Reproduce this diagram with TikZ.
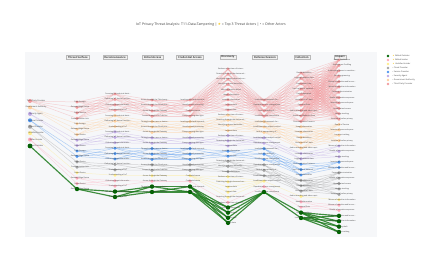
\documentclass[tikz,border=0pt]{standalone}
\usepackage{fontspec}
\setmainfont{Open Sans}
\newfontfamily\symf{DejaVu Sans}
\definecolor{ac1}{HTML}{F29C9F}
\definecolor{ac2}{HTML}{FFD09E}
\definecolor{ac3}{HTML}{BFA9E4}
\definecolor{ac4}{HTML}{4F95EE}
\definecolor{ac5}{HTML}{A3A3A3}
\definecolor{ac6}{HTML}{FFEB8A}
\definecolor{ac7}{HTML}{FFABBC}
\definecolor{ac8}{HTML}{006400}
\definecolor{gE}{HTML}{1E7B1E}
\definecolor{panel}{HTML}{F6F7F9}
\definecolor{txt}{HTML}{3C3C3C}
\definecolor{gold}{HTML}{F5C518}
\pgfdeclarelayer{bgl}
\pgfdeclarelayer{edgel}
\pgfsetlayers{bgl,edgel,main}
\tikzset{
  dot/.style={circle,inner sep=0pt,minimum size=3.4,fill=ac#1},
  gdot/.style={circle,inner sep=0pt,minimum size=4.4,fill=ac8},
  lbl/.style={inner sep=0pt,text=txt,font=\fontsize{1.85}{2.1}\selectfont},
  albl/.style={inner sep=0pt,text=txt,font=\fontsize{2}{2.3}\selectfont},
  edge/.style={draw=ac#1,line width=0.5,opacity=0.42},
  gedge/.style={draw=gE,line width=1.15,opacity=0.85},
  hdr/.style={draw=gray!55,fill=gray!12,line width=0.3,inner xsep=1.6,inner ysep=0.9,text=txt,font=\fontsize{2.7}{3.1}\selectfont\bfseries},
  legtxt/.style={inner sep=0pt,anchor=west,text=txt,font=\fontsize{2}{2.4}\selectfont},
}
\newcommand\mkcol[5]{%
  \foreach \aa in {1,...,8}{\expandafter\xdef\csname cnt#1-\aa\endcsname{0}}%
  \foreach [count=\ii from 0] \aa/\lab in {#5}{%
    \pgfmathsetmacro\yy{#3+\ii*#4}%
    \edef\prev{\csname cnt#1-\aa\endcsname}%
    \pgfmathtruncatemacro\kk{\prev+1}%
    \expandafter\xdef\csname cnt#1-\aa\endcsname{\kk}%
    \ifnum\aa=8
      \node[gdot] (n#1-\aa-\kk) at (#2,\yy) {};
    \else
      \node[dot=\aa] (n#1-\aa-\kk) at (#2,\yy) {};
    \fi
    \node[lbl] (l#1-\aa-\kk) at (#2+3,\yy) {\lab};
  }%
}
\begin{document}
\begin{tikzpicture}[x=1bp,y=-1bp]
\useasboundingbox (0,0) rectangle (423,254);
\begin{pgfonlayer}{bgl}
\fill[panel] (25,52) rectangle (377,237);
\end{pgfonlayer}
\node[inner sep=0pt,text=txt,font=\fontsize{3.5}{4}\selectfont] (title) at (211,25)
  {IoT Privacy Threat Analysis: T11-Data-Tampering | {\symf\textcolor{gold}{★}} = Top 3 Threat Actors | • = Other Actors};
% headers
\node[hdr] (h1) at (78,57) {Threat Surface};
\node[hdr] (h2) at (115,57) {Reconnaissance};
\node[hdr] (h3) at (152.5,57) {Initial Access};
\node[hdr] (h4) at (190,57) {Credential Access};
\node[hdr] (h5) at (228,57) {Discovery};
\node[hdr] (h6) at (265,57) {Defense Evasion};
\node[hdr] (h7) at (302,57) {Collection};
\node[hdr] (h8) at (340,57) {Impact};
% actors
\foreach \aa/\lab in {1/Third Party Provider,2/Government Authority,3/Security Agent,4/Service Provider,5/Cloud Provider,6/Unskilled Insider,7/Skilled Insider,8/Skilled Outsider}{%
  \pgfmathsetmacro\yy{101+(\aa-1)*6.43}%
  \expandafter\xdef\csname cnt0-\aa\endcsname{1}%
  \ifnum\aa=8
    \node[circle,inner sep=0pt,minimum size=4.8,fill=ac8] (n0-\aa-1) at (30,\yy) {};
  \else
    \node[circle,inner sep=0pt,minimum size=4,fill=ac\aa] (n0-\aa-1) at (30,\yy) {};
  \fi
  \node[albl] (l0-\aa-1) at (36,\yy) {\lab};
}
\mkcol{1}{77}{102}{5.44}{1/{Data Storage},1/{Gateway/Edge Device},1/{Cloud Service},1/{Communication Link},
2/{Data Storage},2/{Gateway/Edge Device},2/{Smart Device},
3/{Gateway/Edge Device},3/{Smart Device},
4/{Data Storage},4/{Gateway/Edge Device},
5/{Smart Device},5/{Communication Link},
6/{Smart Device},
7/{Gateway/Edge Device},7/{Smart Device},
8/{Gateway/Edge Device}}
\mkcol{2}{115}{94}{5.42}{1/{Scanning for technical detai…},1/{Gathering IoT device function…},1/{Collecting target informatio…},1/{Understanding of IoT},
2/{Scanning for technical detai…},2/{Gathering IoT device function…},2/{Understanding of IoT},
3/{Scanning for technical detai…},3/{Gathering IoT device function…},3/{Collecting target informatio…},
4/{Scanning for technical detai…},4/{Gathering IoT device function…},4/{Collecting target informatio…},
5/{Gathering IoT device function…},5/{Understanding of IoT},
6/{Understanding of IoT},
7/{Collecting target informatio…},7/{Understanding of IoT},
8/{Gathering IoT device function…},8/{Understanding of IoT}}
\mkcol{3}{152}{100}{5.41}{1/{Access through the Third party…},1/{Access through the Cloud prov…},1/{Access through the Gateway},1/{Access through of IoT devices},
2/{Through insider user or device…},2/{Access through the Cloud prov…},2/{Access through the Gateway},
3/{Through insider user or device…},3/{Access through the Gateway},
4/{Through insider user or device…},4/{Access through the Gateway},4/{Access through the Cloud prov…},
5/{Access through the Cloud prov…},5/{Access through of IoT devices},
6/{Access through the Gateway},
7/{Access through the Gateway},
8/{Through insider user or device…},8/{Access through the Gateway}}
\mkcol{4}{190}{100}{5.41}{1/{Invoking valid and exposed…},1/{Unauthorized processing},1/{Credential reuse},1/{Compromising data type},
2/{Invoking valid and exposed…},2/{Unauthorized processing},2/{Compromising data type},
3/{Unauthorized processing},3/{Compromising data type},
4/{Invoking valid and exposed…},4/{Unauthorized processing},4/{Compromising data type},
5/{Unauthorized processing},5/{Compromising data type},
6/{Credential reuse},
7/{Credential reuse},
8/{Invoking valid and exposed…},8/{Credential reuse}}
\mkcol{5}{228}{69}{5.13}{1/{Evidence of an item of intere…},1/{Detecting through the device wit…},1/{Identifying through observed con…},1/{Identifying shared data affec…},1/{Affecting data in device},1/{Usage information},1/{Location information},1/{Location data},1/{Contact data},
2/{Evidence of an item of intere…},2/{Detecting through the device wit…},2/{Identifying shared data affec…},2/{Location data},
3/{Evidence of an item of intere…},3/{Detecting through the device wit…},3/{Location data},
4/{Location information},4/{Contact data},
5/{Detecting through the device wit…},5/{Identifying shared data affec…},5/{Location information},
6/{Evidence of an item of intere…},6/{Detecting through observed con…},6/{Location data},6/{Contact data},6/{Detecting through the device wit…},
7/{Evidence of an item of intere…},
8/{Location information},8/{Location data},8/{Contact data},8/{Usage data}}
\mkcol{6}{264}{100}{5.41}{1/{Invalidating framework for…},1/{Repudiation user management},1/{Lack of usability of…},1/{Insufficient user compliance},
2/{Invalidating framework for…},2/{Insufficient data subject control},2/{Lack of transparency of…},
3/{Invalidating data subject control},3/{Repudiation user management},
4/{Invalidating framework for…},4/{Lack of usability of…},4/{Insufficient user compliance},
5/{Repudiation user management},5/{Lack of transparency of…},5/{Insufficient data subject control},
6/{Insufficient data subject control},
7/{Repudiation user management},
8/{Insufficient user compliance}}
\mkcol{7}{301}{73}{5.37}{1/{Device Identifiers},1/{Logging behavior data},1/{Deployment Data},1/{User's physical, network, …},1/{Data Preparation},1/{Variation of IoT data},1/{Personal Data},1/{Audio recording and video capt…},1/{Health and Behavior Data},1/{Communication Patterns},
2/{Usage Information},2/{Location Information},2/{Device Identifiers},2/{Variation of IoT data},2/{Audio recording and video capt…},
3/{Location Information},3/{Logging behavior data},
4/{Communication Patterns},4/{User's physical, network, …},4/{Usage Information},
5/{Location Information},5/{Device Identifiers},5/{Variation of IoT data},
6/{Audio recording and video capt…},
7/{Health Information},7/{Personal Data},
8/{Device Identifiers},8/{Location Information}}
\mkcol{8}{339}{60}{5.375}{1/{Device Exploitation},1/{Employment Profiling},1/{Authorizing access to sensitive…},1/{Social engineering},1/{Misuse of sensitive and/or sec…},1/{Misuse of sensitive information},1/{Property discrimination},1/{Health information exposure},1/{Invasion of personal space},1/{Unauthorized access},1/{Identity tracking},1/{Invasion of online privacy},
2/{Denial of Service},2/{Invasion of personal space},2/{Location tracking},2/{Invasion of online privacy},
3/{Misuse of sensitive information},3/{Health information exposure},3/{Identity tracking},
4/{Invasion of personal space},4/{Misuse of sensitive and/or sec…},
5/{Property discrimination},5/{Health information exposure},5/{Unauthorized access},5/{Identity tracking},5/{Invasion of online privacy},
6/{Misuse of sensitive information},
7/{Misuse of sensitive and/or sec…},7/{Health information exposure},
8/{Misuse of sensitive and/or sec…},8/{Misuse of sensitive information},8/{Identity theft},8/{Location tracking}}
% edges
\begin{pgfonlayer}{edgel}
\foreach \aa in {1,...,8}{%
  \foreach \cc in {0,...,7}{%
    \pgfmathtruncatemacro\cn{\cc+1}%
    \edef\na{\csname cnt\cc-\aa\endcsname}%
    \edef\nb{\csname cnt\cn-\aa\endcsname}%
    \foreach \ii in {1,...,\na}{%
      \foreach \jj in {1,...,\nb}{%
        \ifnum\aa=8
          \draw[gedge] (n\cc-\aa-\ii.center) -- (n\cn-\aa-\jj.center);
        \else
          \draw[edge=\aa] (n\cc-\aa-\ii.center) -- (n\cn-\aa-\jj.center);
        \fi
      }}}}
\end{pgfonlayer}
% legend
\foreach \aa/\lab/\yy in {8/Skilled Outsider/56,7/Skilled Insider/60,6/Unskilled Insider/64}{%
  \node[circle,inner sep=0pt,minimum size=2.8,fill=ac\aa] (lm\aa) at (388,\yy) {};
  \node[legtxt] (lt\aa) at (392.5,\yy) {{\symf\textcolor{gold}{★}} \lab};
}
\foreach \aa/\lab/\yy in {5/Cloud Provider/68,4/Service Provider/72,3/Security Agent/76,2/Government Authority/80,1/Third Party Provider/84}{%
  \node[circle,inner sep=0pt,minimum size=2.8,fill=ac\aa] (lm\aa) at (388,\yy) {};
  \node[legtxt] (lt\aa) at (392.5,\yy) {• \lab};
}
\end{tikzpicture}
\end{document}
